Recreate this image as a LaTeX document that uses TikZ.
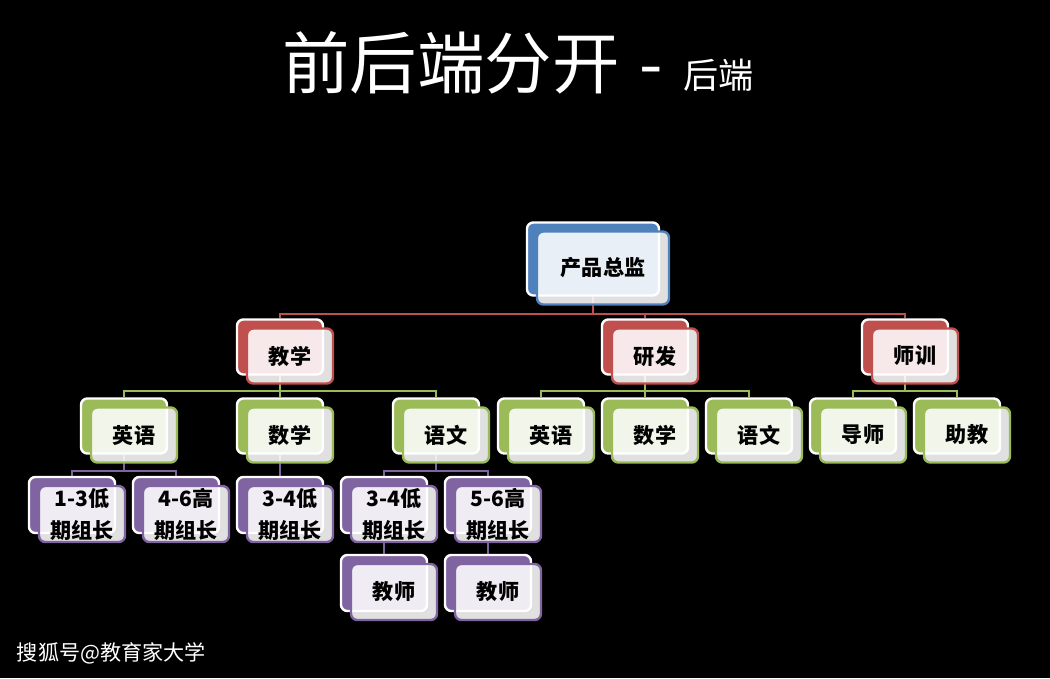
\documentclass[tikz,border=0pt]{standalone}
\usepackage{fontspec}
\setmainfont{Noto Sans CJK SC}
\usetikzlibrary{positioning, calc, shadows, backgrounds}

\definecolor{cblue}{HTML}{4F81BD}
\definecolor{cred}{HTML}{C0504D}
\definecolor{cgreen}{HTML}{9BBB59}
\definecolor{cpurple}{HTML}{8064A2}

\tikzset{
  card/.style={rectangle, rounded corners=4.5pt, draw=#1, line width=1.7pt,
    fill=white, fill opacity=0.88, text opacity=1, text=black,
    font=\fontsize{15}{22.8}\selectfont\bfseries, align=center,
    inner sep=0pt, minimum width=2.15cm, minimum height=1.375cm,
    general shadow={fill=#1, draw=white, line width=1.7pt, fill opacity=1,
      draw opacity=1, shadow xshift=-0.25cm, shadow yshift=0.225cm}},
  boss/.style={card=cblue, minimum width=3.3cm, minimum height=1.825cm},
  dept/.style={card=cred},
  subj/.style={card=cgreen},
  lead/.style={card=cpurple, minimum height=1.4cm},
  link/.style={line width=1.7pt, draw=#1},
}

\begin{document}
\begin{tikzpicture}[x=0.025cm, y=-0.025cm]
    \useasboundingbox (0,0) rectangle (1050,678);

    % 标题
    \node[text=white, font=\fontsize{48}{56}\selectfont] (title) at (518,63)
        {前后端分开\hspace{0.3em}-\hspace{0.3em}{\fontsize{25}{30}\selectfont 后端}};

    % 节点
    \node[boss] (zj) at (603,268) {产品总监};

    \node[dept] (jx) at (290,356) {教学};
    \node[dept] (yf) at (655,356) {研发};
    \node[dept] (sx) at (915,356) {师训};

    \node[subj] (jxyy) at (134,435) {英语};
    \node[subj] (jxsx) at (290,435) {数学};
    \node[subj] (jxyw) at (446,435) {语文};
    \node[subj] (yfyy) at (551,435) {英语};
    \node[subj] (yfsx) at (655,435) {数学};
    \node[subj] (yfyw) at (759,435) {语文};
    \node[subj] (sxds) at (863,435) {导师};
    \node[subj] (sxzj) at (967,435) {助教};

    \node[lead] (yyd) at (82,514) {1-3低\\期组长};
    \node[lead] (yyg) at (186,514) {4-6高\\期组长};
    \node[lead] (sxd) at (290,514) {3-4低\\期组长};
    \node[lead] (ywd) at (394,514) {3-4低\\期组长};
    \node[lead] (ywg) at (498,514) {5-6高\\期组长};

    \node[lead] (jsd) at (394,592) {教师};
    \node[lead] (jsg) at (498,592) {教师};

    \node[text=white, font=\fontsize{15}{18}\selectfont, anchor=west] (src) at (12,653)
        {搜狐号@教育家大学};

    % 连接线
    \begin{scope}[on background layer]
        \fill[black] (0,0) rectangle (1050,678);
        \foreach \c in {jx,yf,sx}
            \draw[link=cred] ($(zj.south)+(-10,-9)$) -- ++(0,17) -| ($(\c.north)+(-10,-9)$);
        \foreach \c in {jxyy,jxsx,jxyw}
            \draw[link=cgreen] ($(jx.south)+(-10,-9)$) -- ++(0,15) -| ($(\c.north)+(-10,-9)$);
        \foreach \c in {yfyy,yfsx,yfyw}
            \draw[link=cgreen] ($(yf.south)+(-10,-9)$) -- ++(0,15) -| ($(\c.north)+(-10,-9)$);
        \foreach \c in {sxds,sxzj}
            \draw[link=cgreen] ($(sx.south)+(-10,-9)$) -- ++(0,15) -| ($(\c.north)+(-10,-9)$);
        \foreach \c in {yyd,yyg}
            \draw[link=cpurple] ($(jxyy.south)+(-10,-9)$) -- ++(0,16) -| ($(\c.north)+(-10,-9)$);
        \draw[link=cpurple] ($(jxsx.south)+(-10,-9)$) -- ($(sxd.north)+(-10,-9)$);
        \foreach \c in {ywd,ywg}
            \draw[link=cpurple] ($(jxyw.south)+(-10,-9)$) -- ++(0,16) -| ($(\c.north)+(-10,-9)$);
        \draw[link=cpurple] ($(ywd.south)+(-10,-9)$) -- ($(jsd.north)+(-10,-9)$);
        \draw[link=cpurple] ($(ywg.south)+(-10,-9)$) -- ($(jsg.north)+(-10,-9)$);
    \end{scope}
\end{tikzpicture}
\end{document}
